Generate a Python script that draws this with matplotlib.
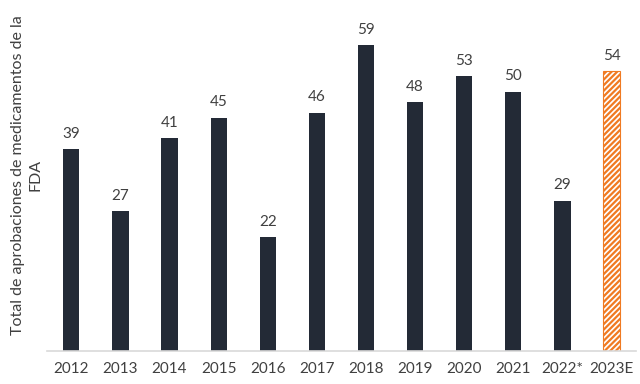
import matplotlib
matplotlib.use("Agg")
import matplotlib.pyplot as plt

years = ["2012", "2013", "2014", "2015", "2016", "2017", "2018", "2019", "2020", "2021", "2022*", "2023E"]
values = [39, 27, 41, 45, 22, 46, 59, 48, 53, 50, 29, 54]

plt.rcParams['font.family'] = ['Lato', 'DejaVu Sans']
plt.rcParams['hatch.linewidth'] = 1.6

fig = plt.figure(figsize=(6.4, 3.84), dpi=100)
ax = fig.add_axes([0.073, 0.086, 0.921, 0.81])

x = list(range(len(years)))
dark = "#232a36"
orange = "#f07a22"
ax.bar(x[:-1], values[:-1], width=0.33, color=dark)
ax.bar(x[-1:], values[-1:], width=0.33, facecolor="white", edgecolor=orange,
       hatch="//////", linewidth=0.8)

for xi, v in zip(x, values):
    ax.text(xi, v + 1.6, str(v), ha="center", va="bottom", fontsize=11, color="#404040")

ax.set_xlim(-0.5, len(years) - 0.5)
ax.set_ylim(0, 60)
ax.set_xticks(x)
ax.set_xticklabels(years, fontsize=11, color="#404040")
ax.set_yticks([])
for s in ["top", "right", "left"]:
    ax.spines[s].set_visible(False)
ax.spines["bottom"].set_color("#d9d9d9")
ax.spines["bottom"].set_linewidth(1.2)
ax.tick_params(axis="x", length=0, pad=8)
fig.text(0.042, 0.545, "Total de aprobaciones de medicamentos de la\nFDA", fontsize=11.5,
         color="#404040", rotation=90, ha="center", va="center", multialignment="center",
         linespacing=1.35)

fig.savefig("out.png", dpi=100)
